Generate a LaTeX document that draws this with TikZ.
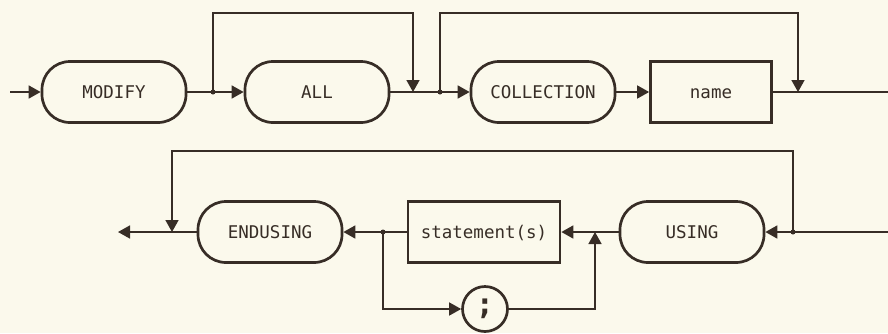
\documentclass[tikz,border=0pt]{standalone}
\usepackage{fontspec}
\setmonofont{DejaVu Sans Mono}
\usetikzlibrary{arrows.meta}
\definecolor{ink}{RGB}{55,45,38}
\definecolor{paper}{RGB}{251,249,236}
\tikzset{
	kw/.style={draw=ink, text=ink, line width=2.7pt, rounded corners=28pt, minimum width=144pt, minimum height=61pt, inner sep=0pt, text height=12.8pt, text depth=0pt, font=\fontsize{17.5}{20}\selectfont\ttfamily},
	var/.style={kw, rounded corners=0pt},
	flow/.style={draw=ink, line width=1.6pt, -{Triangle[length=12pt,width=13pt]}},
	wire/.style={draw=ink, line width=1.6pt},
	dot/.style={circle, fill=ink, inner sep=0pt, minimum size=5pt},
}
\begin{document}
\begin{tikzpicture}[x=1pt, y=-1pt]
			\def\ya{92}  
			\def\yb{232} 
			\path[use as bounding box, fill=paper] (0,0) rectangle (888,333);
			\node[kw] (modify) at (114,\ya) {MODIFY};
			\node[kw] (all) at (317,\ya) {ALL};
			\node[kw] (collection) at (543,\ya) {COLLECTION};
			\node[var, minimum width=121pt] (name) at (711,\ya) {name};
			\node[kw] (using) at (692,\yb) {USING};
			\node[var, minimum width=152pt] (stmt) at (484,\yb) {statement(s)};
			\node[kw] (endusing) at (270,\yb) {ENDUSING};
			\node[kw, circle, minimum size=45pt, text height=, text depth=, font=\fontsize{30}{30}\selectfont\ttfamily\bfseries] (semi) at (485,309) {;};
			\coordinate (start) at (10,\ya);
			\coordinate (j1) at (213,\ya);
			\coordinate (m1) at (413,\ya);
			\coordinate (j2) at (440,\ya);
			\coordinate (m2) at (798,\ya);
			\coordinate (stop) at (888,\ya);
			\coordinate (top) at (0,13);
			\coordinate (start2) at (888,\yb);
			\coordinate (j3) at (793,\yb);
			\coordinate (m3) at (172,\yb);
			\coordinate (stop2) at (118,\yb);
			\coordinate (top2) at (0,151);
			\coordinate (j4) at (383,\yb);
			\coordinate (m4) at (595,\yb);
			\draw[flow] (start) -- (modify);
			\draw[wire] (modify) -- (j1);
			\draw[flow] (j1) -- (all);
			\draw[wire] (all) -- (j2);
			\draw[flow] (j2) -- (collection);
			\draw[flow] (collection) -- (name);
			\draw[wire] (name) -- (stop);
			\draw[flow] (j1) |- (m1 |- top) -- (m1);
			\draw[flow] (j2) |- (m2 |- top) -- (m2);
			\draw[flow] (start2) -- (using);
			\draw[flow] (using) -- (stmt);
			\draw[wire] (stmt) -- (j4);
			\draw[flow] (j4) -- (endusing);
			\draw[flow] (endusing) -- (stop2);
			\draw[flow] (j3) |- (m3 |- top2) -- (m3);
			\draw[flow] (j4) |- (semi);
			\draw[flow] (semi) -| (m4);
			\foreach \j in {j1,j2,j3,j4}
				\node[dot] at (\j) {};
		\end{tikzpicture}
\end{document}
